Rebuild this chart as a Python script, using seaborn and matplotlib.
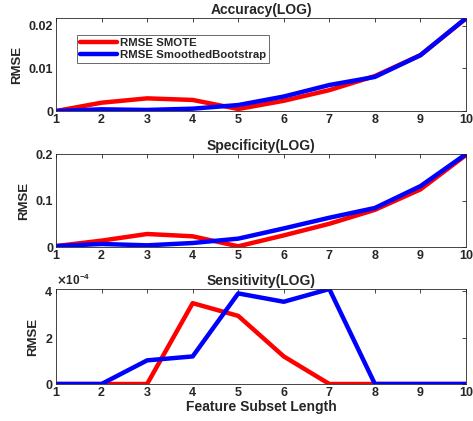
import numpy as np
import pandas as pd
import matplotlib
matplotlib.use("Agg")
import matplotlib.pyplot as plt
import matplotlib.ticker as mticker
import seaborn as sns

# feature subset length
subset_len = [1, 2, 3, 4, 5, 6, 7, 8, 9, 10]

# RMSE values
acc_smote = [0.0, 0.00195, 0.00297, 0.0026, 0.00047, 0.0024, 0.0049, 0.0082, 0.0131, 0.0217]
acc_boot = [0.0, 0.0004, 0.00025, 0.00055, 0.0014, 0.0034, 0.0061, 0.0080, 0.0131, 0.0218]

spec_smote = [0.002, 0.0137, 0.028, 0.023, 0.0015, 0.025, 0.050, 0.080, 0.124, 0.198]
spec_boot = [0.002, 0.0065, 0.0036, 0.0086, 0.018, 0.040, 0.063, 0.084, 0.131, 0.200]

sens_smote = [0, 0, 0, 3.49e-4, 2.94e-4, 1.19e-4, 0, 0, 0, 0]
sens_boot = [0, 0, 1.02e-4, 1.19e-4, 3.91e-4, 3.55e-4, 4.1e-4, 0, 0, 0]

titles = ["Accuracy(LOG)", "Specificity(LOG)", "Sensitivity(LOG)"]
series_names = ["RMSE SMOTE", "RMSE SmoothedBootstrap"]

sns.set_theme(style="white")
plt.rcParams['font.family'] = ['Liberation Sans', 'DejaVu Sans']
plt.rcParams['font.weight'] = 'bold'
plt.rcParams['axes.labelweight'] = 'bold'
plt.rcParams['axes.titleweight'] = 'bold'

fig = plt.figure(figsize=(4.73, 4.21), dpi=100)
boxes = [
    [0.1184, 0.7363, 0.8668, 0.2207],
    [0.1184, 0.4133, 0.8668, 0.2207],
    [0.1184, 0.0879, 0.8668, 0.2256],
]
panels = [(acc_smote, acc_boot), (spec_smote, spec_boot), (sens_smote, sens_boot)]
yticks = [[0, 0.01, 0.02], [0, 0.1, 0.2], [0, 2e-4, 4e-4]]

for i, (box, (smote, boot)) in enumerate(zip(boxes, panels)):
    ax = fig.add_axes(box)
    df = pd.DataFrame({
        "x": subset_len * 2,
        "RMSE": list(smote) + list(boot),
        "series": [series_names[0]] * len(smote) + [series_names[1]] * len(boot),
    })
    sns.lineplot(data=df, x="x", y="RMSE", hue="series",
                 palette=["#ff0000", "#0000ff"], linewidth=3.2, ax=ax,
                 legend=(i == 0))
    ax.set_xlim(1, 10)
    ax.set_ylim(0, max(max(smote), max(boot)))
    ax.set_xticks(subset_len)
    ax.set_yticks(yticks[i])
    ax.tick_params(direction='in', length=3, width=0.6, labelsize=9,
                   top=True, right=True, pad=2, colors='#262626')
    for lab in ax.get_xticklabels() + ax.get_yticklabels():
        lab.set_fontweight('bold')
    for s in ax.spines.values():
        s.set_linewidth(0.6)
        s.set_color('#262626')
    ax.set_title(titles[i], fontsize=10, pad=3)
    ax.set_ylabel("RMSE", fontsize=9.5, labelpad=4)
    if i == 2:
        fmt = mticker.ScalarFormatter(useMathText=True)
        fmt.set_powerlimits((-3, 3))
        ax.yaxis.set_major_formatter(fmt)
        ax.yaxis.get_offset_text().set_fontsize(8.5)
        ax.set_xlabel("Feature Subset Length", fontsize=10, labelpad=1)
    else:
        ax.yaxis.set_major_formatter(mticker.FuncFormatter(lambda v, p: "%g" % v))
        ax.set_xlabel("")
    if i == 0:
        leg = ax.legend(loc='upper left', bbox_to_anchor=(0.052, 0.817),
                        borderaxespad=0, fontsize=8.2, handlelength=3.2,
                        frameon=True, fancybox=False, borderpad=0.25,
                        labelspacing=0.15, handletextpad=0.3, title=None)
        leg.get_frame().set_edgecolor('#262626')
        leg.get_frame().set_linewidth(0.6)
        for t in leg.get_texts():
            t.set_fontweight('bold')

fig.savefig("out.png", dpi=100)
